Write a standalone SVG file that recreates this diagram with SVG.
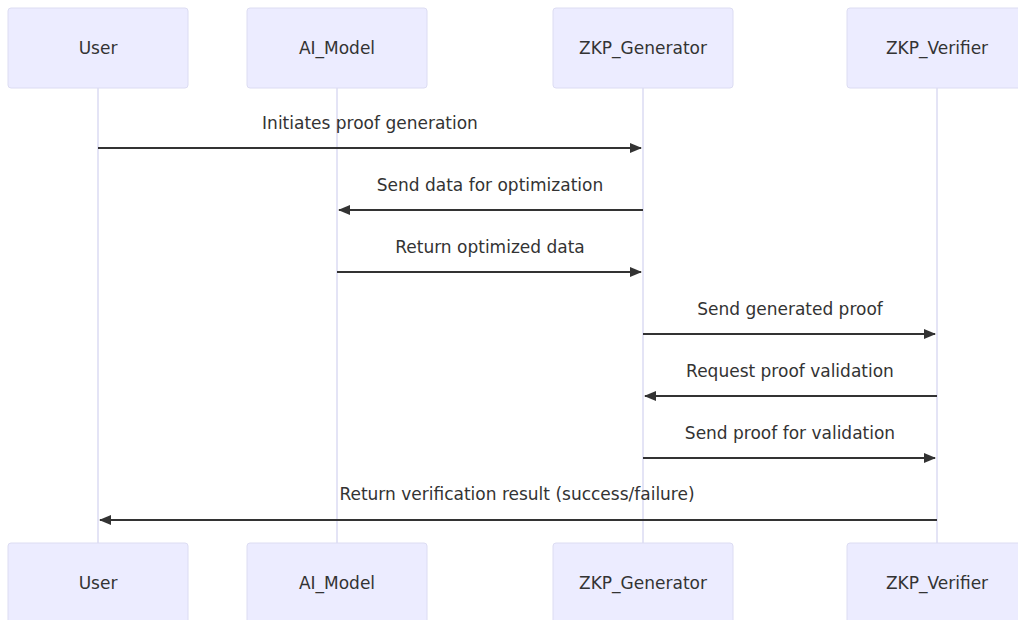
<svg xmlns="http://www.w3.org/2000/svg" width="1018" height="620" viewBox="0 0 1018 620">
<style>
.actor{fill:#ECECFF;stroke:#dcdcf2;stroke-width:1}
.atext{font-family:"DejaVu Sans",sans-serif;font-size:17px;fill:#333;text-anchor:middle;dominant-baseline:central}
.life{stroke:#c9c9ec;stroke-width:1}
.msg{stroke:#333;stroke-width:2;fill:none}
.mtext{font-family:"DejaVu Sans",sans-serif;font-size:17px;fill:#333;text-anchor:middle;dominant-baseline:central}
</style>
<defs>
<marker id="ah" viewBox="0 0 12 10" refX="11" refY="5" markerWidth="12" markerHeight="10" markerUnits="userSpaceOnUse" orient="auto">
<path d="M0,0 L12,5 L0,10 z" fill="#333"/>
</marker>
</defs>
<g id="lifelines">
<line class="life" x1="98" y1="88" x2="98" y2="543"/>
<line class="life" x1="337" y1="88" x2="337" y2="543"/>
<line class="life" x1="643" y1="88" x2="643" y2="543"/>
<line class="life" x1="937" y1="88" x2="937" y2="543"/>
</g>
<g id="User">
<rect class="actor" x="8" y="8" width="180" height="80" rx="3"/>
<text class="atext" x="98" y="48">User</text>
<rect class="actor" x="8" y="543" width="180" height="80" rx="3"/>
<text class="atext" x="98" y="583">User</text>
</g>
<g id="AI_Model">
<rect class="actor" x="247" y="8" width="180" height="80" rx="3"/>
<text class="atext" x="337" y="48">AI_Model</text>
<rect class="actor" x="247" y="543" width="180" height="80" rx="3"/>
<text class="atext" x="337" y="583">AI_Model</text>
</g>
<g id="ZKP_Generator">
<rect class="actor" x="553" y="8" width="180" height="80" rx="3"/>
<text class="atext" x="643" y="48">ZKP_Generator</text>
<rect class="actor" x="553" y="543" width="180" height="80" rx="3"/>
<text class="atext" x="643" y="583">ZKP_Generator</text>
</g>
<g id="ZKP_Verifier">
<rect class="actor" x="847" y="8" width="180" height="80" rx="3"/>
<text class="atext" x="937" y="48">ZKP_Verifier</text>
<rect class="actor" x="847" y="543" width="180" height="80" rx="3"/>
<text class="atext" x="937" y="583">ZKP_Verifier</text>
</g>
<g id="connectors">
<line class="msg" x1="98" y1="148" x2="641" y2="148" marker-end="url(#ah)"/>
<text class="mtext" x="370" y="123">Initiates proof generation</text>
<line class="msg" x1="643" y1="210" x2="339" y2="210" marker-end="url(#ah)"/>
<text class="mtext" x="490" y="185">Send data for optimization</text>
<line class="msg" x1="337" y1="272" x2="641" y2="272" marker-end="url(#ah)"/>
<text class="mtext" x="490" y="247">Return optimized data</text>
<line class="msg" x1="643" y1="334" x2="935" y2="334" marker-end="url(#ah)"/>
<text class="mtext" x="790" y="309">Send generated proof</text>
<line class="msg" x1="937" y1="396" x2="645" y2="396" marker-end="url(#ah)"/>
<text class="mtext" x="790" y="371">Request proof validation</text>
<line class="msg" x1="643" y1="458" x2="935" y2="458" marker-end="url(#ah)"/>
<text class="mtext" x="790" y="433">Send proof for validation</text>
<line class="msg" x1="937" y1="520" x2="100" y2="520" marker-end="url(#ah)"/>
<text class="mtext" x="517" y="494">Return verification result (success/failure)</text>
</g>
</svg>
